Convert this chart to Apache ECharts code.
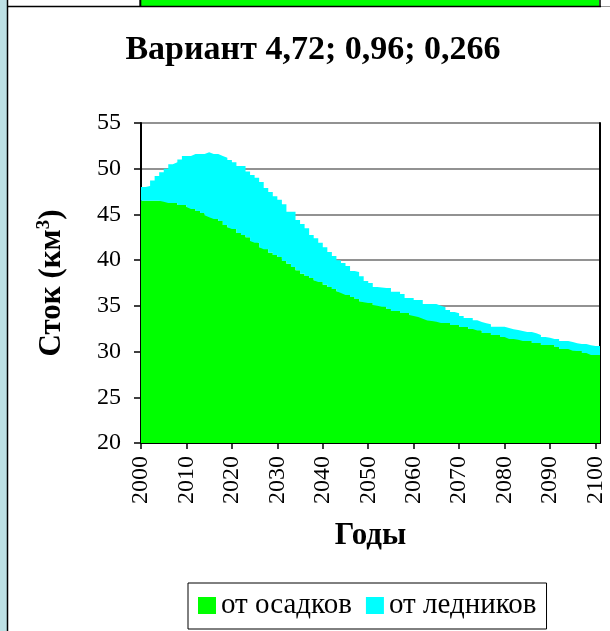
<!DOCTYPE html>
<html>
<head>
<meta charset="utf-8">
<title>Вариант 4,72; 0,96; 0,266</title>
<script src="https://cdn.jsdelivr.net/npm/echarts@6/dist/echarts.min.js"></script>
<style>
  html, body { margin: 0; padding: 0; background: #fff; }
  #stok { width: 610px; height: 631px; }
</style>
</head>
<body>
<div id="stok"></div>
<script>
// первый год ряда
var START_YEAR = 2000;

// сток от осадков, км3 (по годам 2000..2100)
var otOsadkov = [
	46.5, 46.5, 46.5, 46.5, 46.5, 46.4, 46.25, 46.25, 46.03, 46.03,
	45.8, 45.6, 45.37, 45.15, 44.9, 44.7, 44.5, 44.28, 43.84, 43.6,
	43.4, 42.97, 42.75, 42.5, 42.1, 41.9, 41.4, 41.2, 40.8, 40.56,
	40.34, 39.9, 39.6, 39.25, 38.9, 38.5, 38.27, 38.05, 37.8, 37.6,
	37.3, 37.06, 36.84, 36.6, 36.4, 36.2, 35.97, 35.75, 35.5, 35.4,
	35.31, 35.09, 35.0, 34.91, 34.66, 34.44, 34.44, 34.22, 34.22, 34.0,
	33.9, 33.78, 33.6, 33.4, 33.34, 33.25, 33.13, 33.13, 32.91, 32.91,
	32.69, 32.69, 32.47, 32.47, 32.3, 32.03, 32.03, 31.81, 31.81, 31.59,
	31.59, 31.38, 31.38, 31.3, 31.16, 31.16, 30.94, 30.94, 30.72, 30.72,
	30.72, 30.5, 30.28, 30.28, 30.28, 30.1, 30.06, 29.84, 29.84, 29.63, 29.63
];

// суммарный сток (осадки + ледники), км3
var vsego = [
	48.0, 48.1, 48.7, 49.2, 49.6, 50.0, 50.5, 50.7, 51.0, 51.4,
	51.4, 51.6, 51.6, 51.6, 51.8, 51.6, 51.6, 51.4, 51.2, 50.95,
	50.7, 50.3, 50.3, 49.7, 49.3, 49.0, 48.55, 47.9, 47.45, 47.0,
	46.6, 46.1, 45.3, 45.3, 44.4, 43.95, 43.5, 42.75, 42.4, 41.9,
	41.4, 40.9, 40.45, 40.0, 39.7, 39.35, 38.8, 38.7, 38.25, 37.72,
	37.5, 37.06, 37.0, 36.95, 36.95, 36.55, 36.55, 36.3, 35.86, 35.86,
	35.64, 35.64, 35.2, 35.2, 35.2, 35.0, 34.84, 34.55, 34.33, 34.2,
	33.89, 33.67, 33.67, 33.42, 33.23, 33.1, 32.98, 32.72, 32.72, 32.72,
	32.58, 32.45, 32.36, 32.25, 32.14, 32.14, 32.0, 31.81, 31.59, 31.5,
	31.38, 31.38, 31.16, 31.16, 31.05, 30.9, 30.83, 30.83, 30.7, 30.61, 30.61
];

// деления оси Y
var yTicks = [20, 25, 30, 35, 40, 45, 50, 55];

var SERIF = '"Liberation Serif", "DejaVu Serif", serif';

// годы по оси X; последний элемент — правая граница последней ступеньки
function getYears(n) {
	var years = [];
	for (var i = 0; i <= n; i++) {
		years.push(String(START_YEAR + i));
	}
	return years;
}

// значение года держится до следующего года, поэтому повторяем последнее
function closeStep(values) {
	return values.concat([values[values.length - 1]]);
}

function showStok() {
	var myChart = echarts.init(document.getElementById('stok'));

	var otLednikov = vsego.map(function (v, i) {
		return +(v - otOsadkov[i]).toFixed(2);
	});
	var years = getYears(otOsadkov.length);

	var option = {
		animation: false,
		title: {
			text: 'Вариант 4,72; 0,96; 0,266',
			left: 313,
			textAlign: 'center',
			top: 33,
			padding: 0,
			textStyle: {
				fontFamily: SERIF,
				fontWeight: 'bold',
				fontSize: 34,
				color: '#000'
			}
		},
		legend: {
			left: 188,
			top: 583,
			padding: [8, 10, 9, 10],
			itemGap: 14,
			itemWidth: 18,
			itemHeight: 17,
			icon: 'rect',
			borderColor: '#000',
			borderWidth: 1,
			data: ['от осадков', 'от ледников'],
			textStyle: {
				fontFamily: SERIF,
				fontSize: 29,
				color: '#000'
			}
		},
		grid: {
			left: 141,
			right: 10,
			top: 123,
			bottom: 188
		},
		xAxis: {
			type: 'category',
			data: years,
			boundaryGap: false,
			name: 'Годы',
			nameLocation: 'middle',
			nameGap: 77,
			nameTextStyle: {
				fontFamily: SERIF,
				fontWeight: 'bold',
				fontSize: 31,
				color: '#000'
			},
			axisLine: { lineStyle: { color: '#000', width: 2 } },
			axisTick: { interval: 9, length: 6, lineStyle: { color: '#000', width: 1.5 } },
			splitLine: { show: false },
			axisLabel: {
				interval: 9,
				rotate: 90,
				margin: 13,
				fontFamily: SERIF,
				fontSize: 24,
				color: '#000'
			}
		},
		yAxis: [{
			type: 'value',
			min: yTicks[0],
			max: yTicks[yTicks.length - 1],
			interval: 5,
			name: '{a|Сток (км}{s|3}{a|)}',
			nameLocation: 'middle',
			nameGap: 72,
			nameTextStyle: {
				rich: {
					a: {
						fontFamily: SERIF,
						fontWeight: 'bold',
						fontSize: 31,
						lineHeight: 34,
						color: '#000'
					},
					s: {
						fontFamily: SERIF,
						fontWeight: 'bold',
						fontSize: 19,
						lineHeight: 19,
						verticalAlign: 'top',
						color: '#000'
					}
				}
			},
			axisLine: { show: true, lineStyle: { color: '#000', width: 2 } },
			axisTick: { show: true, length: 7, lineStyle: { color: '#000', width: 1.5 } },
			splitLine: { lineStyle: { color: '#6e6e6e', width: 1.5 } },
			axisLabel: {
				margin: 20,
				fontFamily: SERIF,
				fontSize: 24,
				color: '#000'
			}
		}, {
			// правая рамка области построения
			type: 'value',
			position: 'right',
			min: yTicks[0],
			max: yTicks[yTicks.length - 1],
			interval: 5,
			axisLine: { show: true, lineStyle: { color: '#000', width: 2 } },
			axisTick: { show: false },
			axisLabel: { show: false },
			splitLine: { show: false }
		}],
		series: [{
			name: 'от осадков',
			type: 'line',
			stack: 'stok',
			step: 'end',
			symbol: 'none',
			lineStyle: { width: 0 },
			itemStyle: { color: '#00ff00' },
			areaStyle: { color: '#00ff00', opacity: 1 },
			data: closeStep(otOsadkov)
		}, {
			name: 'от ледников',
			type: 'line',
			stack: 'stok',
			step: 'end',
			symbol: 'none',
			lineStyle: { width: 0 },
			itemStyle: { color: '#00ffff' },
			areaStyle: { color: '#00ffff', opacity: 1 },
			data: closeStep(otLednikov)
		}],
		// рамки листа вокруг диаграммы
		graphic: [
			{ type: 'rect', shape: { x: 0, y: 0, width: 7, height: 631 }, style: { fill: '#bde0e4' }, silent: true },
			{ type: 'line', shape: { x1: 7.5, y1: 0, x2: 7.5, y2: 631 }, style: { stroke: '#000', lineWidth: 1.5 }, silent: true },
			{ type: 'rect', shape: { x: 141, y: 0, width: 458, height: 6 }, style: { fill: '#00ff00' }, silent: true },
			{ type: 'line', shape: { x1: 140.3, y1: 0, x2: 140.3, y2: 6 }, style: { stroke: '#000', lineWidth: 2 }, silent: true },
			{ type: 'line', shape: { x1: 600, y1: 0, x2: 600, y2: 6 }, style: { stroke: '#000', lineWidth: 1.5 }, silent: true },
			{ type: 'line', shape: { x1: 8, y1: 6.5, x2: 601, y2: 6.5 }, style: { stroke: '#000', lineWidth: 1.5 }, silent: true },
			{ type: 'line', shape: { x1: 601, y1: 6.5, x2: 610, y2: 6.5 }, style: { stroke: '#999', lineWidth: 1 }, silent: true }
		]
	};
	myChart.setOption(option);
}

showStok();
</script>
</body>
</html>
